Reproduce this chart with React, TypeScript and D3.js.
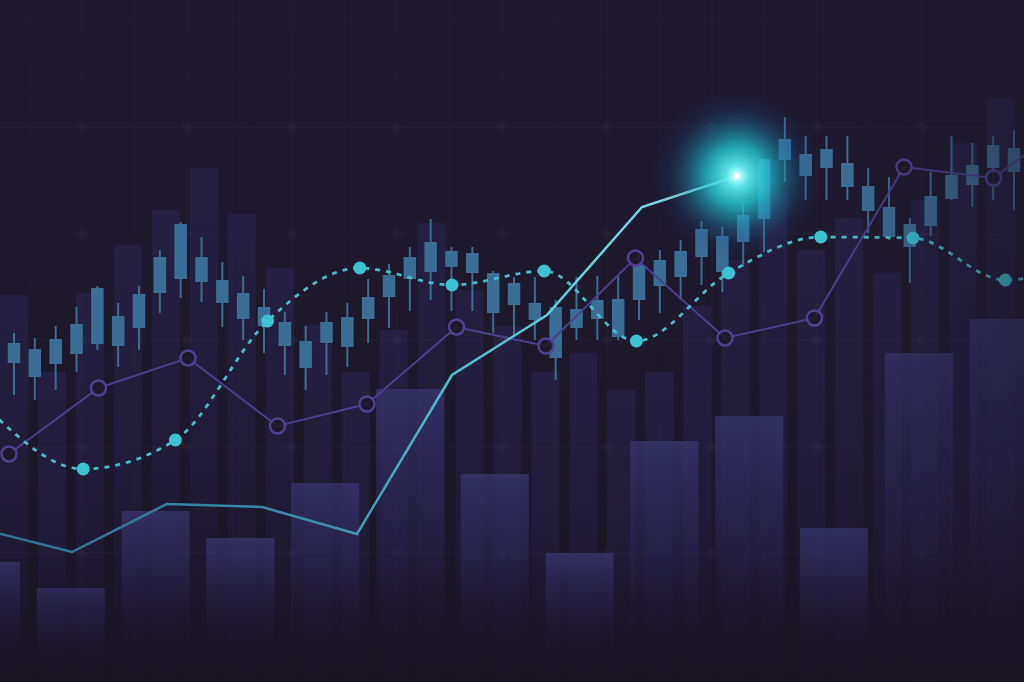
import React from 'react';
import * as d3 from 'd3';

const W = 1024;
const H = 682;

// Candlestick series (price units)
const candleOpen = [319, 333, 318, 328, 338, 366, 354, 389, 403, 425, 402, 389, 375, 360, 341, 339, 335, 363, 385, 403, 410, 431, 429, 409, 399, 379, 375, 354, 363, 383, 382, 396, 405, 425, 446, 440, 463, 522, 528, 514, 519, 496, 475, 458, 456, 483, 497, 514, 534];
const candleClose = [339, 305, 343, 358, 394, 336, 388, 425, 458, 400, 379, 363, 356, 336, 314, 360, 365, 385, 407, 425, 440, 415, 409, 369, 377, 362, 324, 373, 382, 345, 417, 422, 431, 453, 410, 467, 523, 543, 506, 533, 495, 471, 445, 435, 486, 507, 517, 537, 510];
const candleHigh = [349, 344, 356, 375, 396, 379, 396, 432, 460, 445, 420, 406, 393, 370, 356, 370, 379, 403, 418, 435, 463, 435, 435, 411, 405, 405, 382, 405, 406, 406, 427, 432, 442, 461, 455, 479, 523, 565, 546, 546, 546, 514, 505, 464, 510, 546, 539, 546, 552];
const candleLow = [287, 282, 292, 310, 332, 315, 332, 369, 384, 380, 355, 342, 329, 307, 292, 307, 315, 339, 354, 371, 382, 371, 371, 349, 345, 342, 302, 342, 342, 342, 362, 369, 382, 397, 390, 415, 430, 500, 482, 482, 482, 449, 442, 399, 446, 482, 475, 482, 472];

// Volume-like background bars
const frontBars = [120, 94, 171, 144, 199, 293, 208, 129, 241, 266, 154, 329, 363];
const backBars = [387, 310, 389, 437, 472, 514, 468, 414, 357, 310, 352, 459, 392, 356, 310, 329, 292, 310, 376, 422, 489, 432, 464, 409, 482, 539, 584];

// Line series
const trendLine = [154, 130, 178, 175, 148, 307, 367, 475, 506];
const dashedLine = [270, 213, 242, 361, 414, 397, 411, 341, 409, 445, 444, 402, 427];
const purpleLine = [228, 294, 324, 256, 278, 355, 336, 424, 344, 364, 515, 504, 571];

// Grid levels (price units)
const gridLevels = [22, 75, 129, 182, 235, 289, 342, 395, 448, 502, 555, 608, 662];
const majorLevels = [129, 235, 342, 448, 555];

const BG = '#1d1829';

export default function App() {
  const y = d3.scaleLinear().domain([0, 682]).range([H, 0]);
  const xc = d3.scaleLinear().domain([0, candleOpen.length - 1]).range([14, 1014]);
  const xFront = d3.scaleBand<number>().domain(d3.range(frontBars.length)).range([-48, 1037.6]).paddingInner(0.198).paddingOuter(0);
  const xBack = d3.scaleBand<number>().domain(d3.range(backBars.length)).range([0, 1015]).paddingInner(0.263).paddingOuter(0);
  const xTrend = d3.scaleLinear().domain([0, trendLine.length - 1]).range([-23, 737]);
  const xDash = d3.scaleLinear().domain([0, dashedLine.length - 1]).range([-9, 1097.4]);
  const xPurple = d3.scaleLinear().domain([0, purpleLine.length - 1]).range([9, 1083]);
  const xGrid = d3.scaleLinear().domain([0, 20]).range([-23, 1027]);

  const trendPath = d3.line<number>().x((_, i) => xTrend(i)).y((d) => y(d))(trendLine) || '';
  const dashPath = d3.line<number>().x((_, i) => xDash(i)).y((d) => y(d)).curve(d3.curveMonotoneX)(dashedLine) || '';
  const purplePath = d3.line<number>().x((_, i) => xPurple(i)).y((d) => y(d))(purpleLine) || '';

  const bodyW = 12.5;
  const glowX = xTrend(trendLine.length - 1);
  const glowY = y(trendLine[trendLine.length - 1]);

  return (
    <svg width={W} height={H} style={{ position: 'fixed', left: 0, top: 0, display: 'block' }}>
      <defs>
        <linearGradient id="bgGrad" x1="0" y1="0" x2="0" y2="1">
          <stop offset="0" stopColor="#1e192e" />
          <stop offset="0.6" stopColor="#1d1829" />
          <stop offset="1" stopColor="#1a1423" />
        </linearGradient>
        <linearGradient id="frontGrad" x1="0" y1="0" x2="0" y2="1">
          <stop offset="0" stopColor="#37346e" stopOpacity="0.8" />
          <stop offset="0.4" stopColor="#2e2a5e" stopOpacity="0.5" />
          <stop offset="0.85" stopColor="#241f45" stopOpacity="0.05" />
          <stop offset="1" stopColor="#241f45" stopOpacity="0" />
        </linearGradient>
        <linearGradient id="backGrad" x1="0" y1="0" x2="0" y2="1">
          <stop offset="0" stopColor="#2a2550" stopOpacity="0.6" />
          <stop offset="0.6" stopColor="#25204a" stopOpacity="0.4" />
          <stop offset="1" stopColor="#221d40" stopOpacity="0.05" />
        </linearGradient>
        <linearGradient id="trendGrad" gradientUnits="userSpaceOnUse" x1="0" y1="0" x2="737" y2="0">
          <stop offset="0" stopColor="#2f6f94" />
          <stop offset="0.45" stopColor="#3d8fb0" />
          <stop offset="0.62" stopColor="#4fc0d4" />
          <stop offset="0.88" stopColor="#6fdbe6" />
          <stop offset="1" stopColor="#d8ffff" />
        </linearGradient>
        <radialGradient id="glowGrad" cx="0.5" cy="0.5" r="0.5">
          <stop offset="0" stopColor="#f0ffff" stopOpacity="1" />
          <stop offset="0.05" stopColor="#a8fafa" stopOpacity="1" />
          <stop offset="0.14" stopColor="#5ae8ec" stopOpacity="0.95" />
          <stop offset="0.35" stopColor="#22c4d0" stopOpacity="0.8" />
          <stop offset="0.6" stopColor="#1a8ab4" stopOpacity="0.42" />
          <stop offset="0.8" stopColor="#1e4e8e" stopOpacity="0.17" />
          <stop offset="1" stopColor="#1d3b7a" stopOpacity="0" />
        </radialGradient>
        <linearGradient id="rightFade" gradientUnits="userSpaceOnUse" x1="840" y1="0" x2="1024" y2="0">
          <stop offset="0" stopColor={BG} stopOpacity="0" />
          <stop offset="1" stopColor={BG} stopOpacity="0.45" />
        </linearGradient>
        <linearGradient id="bottomFade" gradientUnits="userSpaceOnUse" x1="0" y1="560" x2="0" y2="682">
          <stop offset="0" stopColor="#1a1423" stopOpacity="0" />
          <stop offset="1" stopColor="#1a1423" stopOpacity="0.8" />
        </linearGradient>
      </defs>

      <rect x={0} y={0} width={W} height={H} fill="url(#bgGrad)" />

      {/* back bars */}
      <g>
        {backBars.map((v, i) => (
          <rect key={'b' + i} x={xBack(i)} y={y(v)} width={xBack.bandwidth()} height={H - y(v)} fill="url(#backGrad)" />
        ))}
      </g>

      {/* grid */}
      <g>
        {gridLevels.map((g) => (
          <line key={'h' + g} x1={0} x2={W} y1={y(g)} y2={y(g)} stroke="#ffffff" strokeOpacity={majorLevels.includes(g) ? 0.03 : 0.015} strokeWidth={1} />
        ))}
        {d3.range(1, 21).map((k) => (
          <line key={'v' + k} x1={xGrid(k)} x2={xGrid(k)} y1={0} y2={H} stroke="#ffffff" strokeOpacity={k % 2 === 0 ? 0.022 : 0.012} strokeWidth={1} />
        ))}
        {d3.range(2, 21, 2).map((k) =>
          majorLevels.map((g) => (
            <circle key={'gd' + k + '-' + g} cx={xGrid(k)} cy={y(g)} r={5} fill="#ffffff" fillOpacity={0.025} />
          ))
        )}
      </g>

      {/* front bars */}
      <g>
        {frontBars.map((v, i) => (
          <rect key={'f' + i} x={xFront(i)} y={y(v)} width={xFront.bandwidth()} height={H - y(v)} fill="url(#frontGrad)" />
        ))}
      </g>

      {/* candles */}
      <g>
        {candleOpen.map((o, i) => {
          const c = candleClose[i];
          const top = y(Math.max(o, c));
          const bot = y(Math.min(o, c));
          const cx = xc(i);
          return (
            <g key={'c' + i}>
              <line x1={cx} x2={cx} y1={y(candleHigh[i])} y2={y(candleLow[i])} stroke="#3a6c94" strokeWidth={2} />
              <rect x={cx - bodyW / 2} y={top} width={bodyW} height={Math.max(1, bot - top)} fill="#3b6e97" />
            </g>
          );
        })}
      </g>

      {/* purple line */}
      <path d={purplePath} fill="none" stroke="#4b3f90" strokeWidth={2} />
      {purpleLine.map((v, i) => (
        <circle key={'p' + i} cx={xPurple(i)} cy={y(v)} r={7.5} fill={BG} fillOpacity={0.85} stroke="#4d4194" strokeWidth={2.5} />
      ))}

      {/* dashed line */}
      <path d={dashPath} fill="none" stroke="#45bccd" strokeWidth={2.8} strokeDasharray="5 6" />
      {dashedLine.map((v, i) => (
        <circle key={'d' + i} cx={xDash(i)} cy={y(v)} r={6.5} fill="#3cc3d3" />
      ))}

      {/* trend line */}
      <path d={trendPath} fill="none" stroke="url(#trendGrad)" strokeWidth={2.5} />

      {/* fades */}
      <rect x={840} y={0} width={184} height={H} fill="url(#rightFade)" />
      <rect x={0} y={560} width={W} height={122} fill="url(#bottomFade)" />

      {/* glow */}
      <circle cx={glowX} cy={glowY} r={86} fill="url(#glowGrad)" />
      <circle cx={glowX} cy={glowY} r={3} fill="#ffffff" />
    </svg>
  );
}
